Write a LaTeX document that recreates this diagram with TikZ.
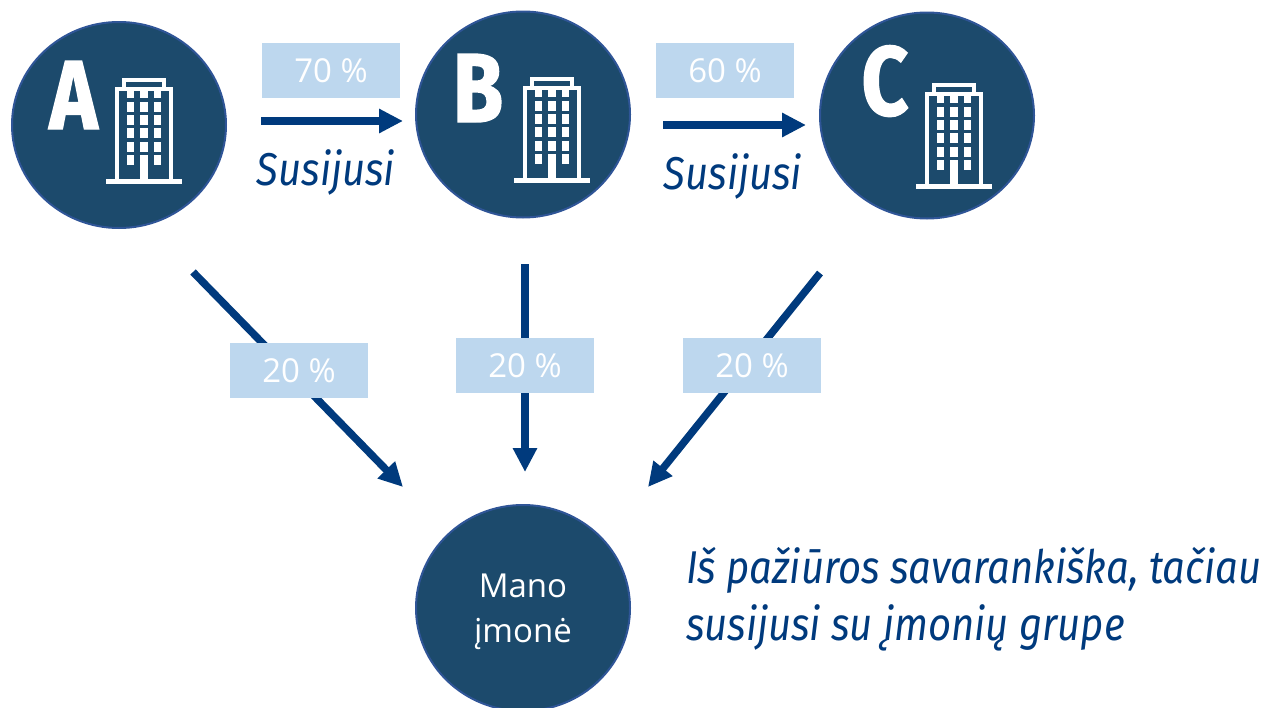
\documentclass[tikz,border=0pt]{standalone}
\usepackage{fontspec}
\setmainfont{Open Sans}
\newfontfamily\capfont[FakeStretch=0.83,FakeBold=1.5]{Fira Sans}
\newfontfamily\notefont[FakeStretch=0.87]{Fira Sans}
\usetikzlibrary{arrows.meta,shapes.geometric}
\definecolor{circfill}{HTML}{1C4A6C}
\definecolor{circedge}{HTML}{2F5597}
\definecolor{arrowcol}{HTML}{003A7D}
\definecolor{boxcol}{HTML}{BDD7EE}
\tikzset{
  firm/.style={ellipse,draw=circedge,line width=2pt,fill=circfill,minimum width=214pt,minimum height=206pt,inner sep=0pt},
  firmtext/.style={text=white,font=\fontsize{33}{45}\selectfont,align=center,inner sep=0pt},
  flow/.style={draw=arrowcol,line width=7.5pt,-{Triangle[length=24pt,width=23pt]}},
  pct/.style={fill=boxcol,minimum width=138pt,minimum height=55pt,inner sep=0pt,text=white,font=\fontsize{33}{36}\selectfont},
  rel/.style={text=arrowcol,font=\notefont\itshape\fontsize{46}{50}\selectfont,inner sep=0pt},
  note/.style={text=arrowcol,font=\notefont\itshape\fontsize{46}{57}\selectfont,inner sep=0pt,anchor=base west},
  letter/.style={text=white,font=\capfont\bfseries\fontsize{98}{98}\selectfont,inner sep=0pt,anchor=base},
  tower/.pic={
    \fill[white] (0,0) rectangle (76,-5);
    \draw[white,line width=4pt] (11,-3) -- (11,-95.3) -- (64.6,-95.3) -- (64.6,-3);
    \draw[white,line width=4pt] (18,-95.3) -- (18,-103.7) -- (58,-103.7) -- (58,-95.3);
    \foreach \cx in {21,34.3,47.7}{
      \foreach \ry in {-85.7,-72.4,-59,-45.7,-32.4,-19}{
        \fill[white] (\cx,\ry) rectangle (\cx+7.3,\ry-10);
      }
    }
    \fill[white] (34.3,-19) rectangle (41.6,-3);
  }
}
\begin{document}
\begin{tikzpicture}[x=1pt,y=-1pt]
\useasboundingbox (0,0) rectangle (1271,707);
% companies
\node[firm] (A) at (119,125) {};
\node[firm] (B) at (523,114.5) {};
\node[firm] (C) at (927,115.5) {};
\node[firm] (M) at (523,608) {};
\node[firmtext] (mt) at (523,612) {Mano\\įmonė};
% letters and towers
\node[letter] (la) at (73.5,129) {A};
\node[letter] (lb) at (478,122) {B};
\node[letter] (lc) at (885,115) {C};
\pic (ta) at (106,184) {tower};
\pic (tb) at (514,183) {tower};
\pic (tc) at (916,189) {tower};
% arrow ends
\coordinate (a1s) at (261,121);
\coordinate (a1e) at (403,121);
\coordinate (a2s) at (663,125);
\coordinate (a2e) at (806,125);
\coordinate (d1s) at (193,272);
\coordinate (d1e) at (403,487);
\coordinate (d2s) at (525,264);
\coordinate (d2e) at (525,472);
\coordinate (d3s) at (820,273);
\coordinate (d3e) at (648,487);
\draw[flow] (a1s) -- (a1e);
\draw[flow] (a2s) -- (a2e);
\draw[flow] (d1s) -- (d1e);
\draw[flow] (d2s) -- (d2e);
\draw[flow] (d3s) -- (d3e);
% percentages
\node[pct] (p1) at (331,70.5) {70 \%};
\node[pct] (p2) at (725,70.5) {60 \%};
\node[pct] (p3) at (299,370.5) {20 \%};
\node[pct] (p4) at (525,365.5) {20 \%};
\node[pct] (p5) at (752,365.5) {20 \%};
% notes
\node[rel] (s1) at (326,172) {Susijusi};
\node[rel] (s2) at (733,176) {Susijusi};
\node[note] (n1) at (686,583) {Iš pažiūros savarankiška, tačiau};
\node[note] (n2) at (686,640) {susijusi su įmonių grupe};
\end{tikzpicture}
\end{document}
